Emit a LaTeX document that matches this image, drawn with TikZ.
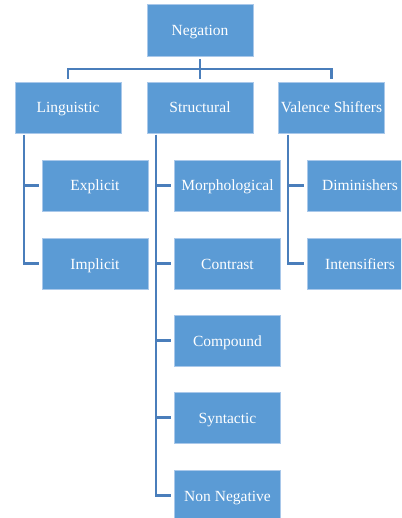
\documentclass[tikz,border=0pt]{standalone}
\usepackage{fontspec}
\setmainfont{Liberation Serif}
\definecolor{boxfill}{HTML}{5B9BD5}
\definecolor{boxedge}{HTML}{A9C8EA}
\definecolor{linec}{HTML}{4A7EBB}
\begin{document}
\begin{tikzpicture}[x=1pt,y=-1pt,
  box/.style={draw=boxedge,line width=0.7pt,fill=boxfill,text=white,minimum width=106pt,minimum height=51pt,inner sep=0pt,text height=12pt,text depth=1pt,font=\fontsize{15.5}{18}\selectfont},
  conn/.style={draw=linec,line width=2.7pt}]
\useasboundingbox (0,0) rectangle (401,518);
\begin{scope}
\clip (0,0) rectangle (401,518);
\node[box,minimum height=52pt] (neg) at (200,30) {Negation};
\node[box] (lin) at (68,107.5) {Linguistic};
\node[box] (str) at (200,107.5) {Structural};
\node[box] (val) at (331.5,107.5) {Valence Shifters};
\node[box] (exp) at (95,185.5) {Explicit};
\node[box] (imp) at (95,263.5) {Implicit};
\node[box] (mor) at (227.5,185.5) {Morphological};
\node[box] (con) at (227.5,263.5) {Contrast};
\node[box] (com) at (227.5,340.5) {Compound};
\node[box] (syn) at (227.5,417.5) {Syntactic};
\node[box] (non) at (227.5,495.5) {Non Negative};
\node[box] (dim) at (360,185.5) {Diminishers};
\node[box] (int) at (360,263.5) {Intensifiers};
\end{scope}
\coordinate (bus) at (200,69);
\draw[conn] ([yshift=-3pt]neg.south) -- ([yshift=3pt]str.north);
\draw[conn] ([yshift=3pt]lin.north) |- (bus) -| ([yshift=3pt]val.north);
\coordinate (lx) at (24,135);
\coordinate (sx) at (156,135);
\coordinate (vx) at (288,135);
\draw[conn] (lx) |- ([xshift=-3pt]exp.west);
\draw[conn] (lx) |- ([xshift=-3pt]imp.west);
\foreach \n in {mor,con,com,syn,non} \draw[conn] (sx) |- ([xshift=-3pt]\n.west);
\draw[conn] (vx) |- ([xshift=-3pt]dim.west);
\draw[conn] (vx) |- ([xshift=-3pt]int.west);
\end{tikzpicture}
\end{document}
